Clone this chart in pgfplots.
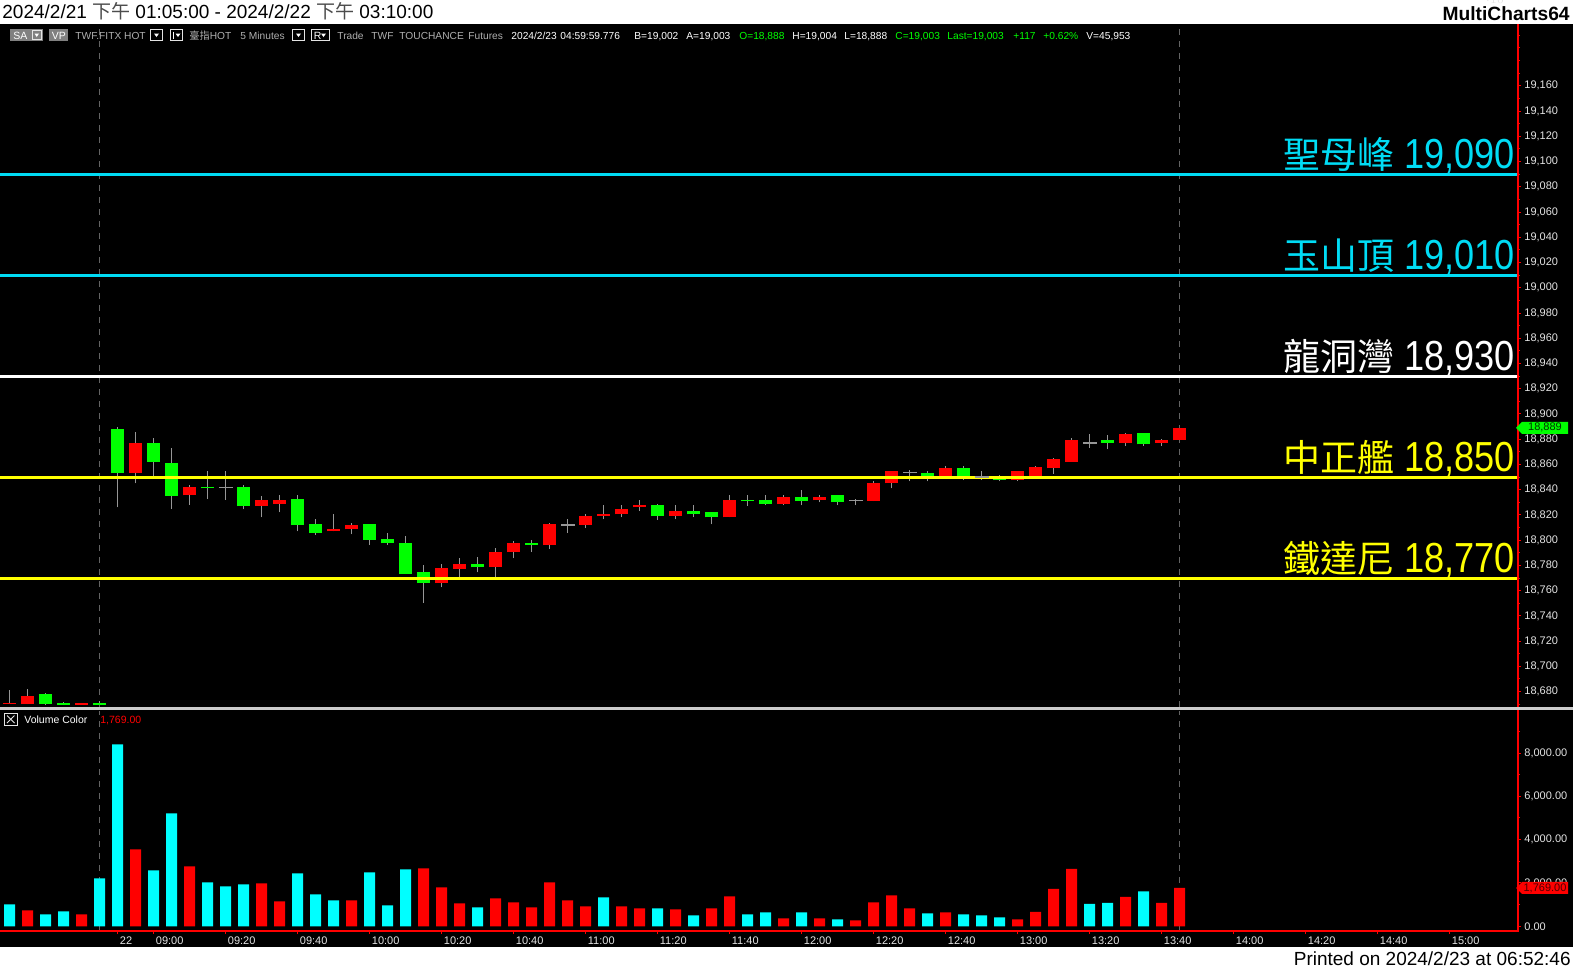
\documentclass[border=0pt]{standalone}
\usepackage{fontspec}
\setmainfont{Liberation Sans}
\newfontfamily\cjk{Noto Sans CJK TC}
\usepackage{graphicx}
\usepackage{pgfplots}
\usepackage{pgfplotstable}
\pgfplotsset{compat=1.18}

\definecolor{cup}{RGB}{255,0,0}
\definecolor{cdn}{RGB}{0,255,0}
\definecolor{wick}{RGB}{150,150,150}
\definecolor{vcyan}{RGB}{0,255,255}
\definecolor{lcyan}{RGB}{0,220,245}
\definecolor{lyel}{RGB}{255,255,0}
\definecolor{lbl}{RGB}{228,228,228}
\definecolor{stgray}{RGB}{175,175,175}
\definecolor{dashc}{RGB}{100,100,100}
\newcommand\fs[1]{\fontsize{#1}{#1}\selectfont}

% 5-minute bars, k = 0 is the 08:50 bar of 2/22
\pgfplotstableread{
k O H L C
-6 18670 18681 18670 18671
-5 18670 18682 18670 18676.5
-2 18669.6 18671 18669.6 18671
1 18853 18886 18845 18877
4 18835.5 18844 18828 18842.5
8 18827 18835 18818 18831.5
9 18828.5 18836 18822 18832
12 18807 18821 18807 18808.5
13 18808.5 18814 18804.5 18812
18 18766 18781.5 18762.5 18778
19 18777.5 18785.5 18771 18781.5
21 18778.5 18793.5 18771 18791
22 18790.5 18799 18785.5 18798
24 18796 18814 18793 18813
26 18812 18820.5 18809.5 18819.5
27 18819 18827.5 18816.5 18821
28 18820.5 18828 18818 18825
29 18826 18832 18823 18828
31 18819 18827.5 18816.5 18823.5
34 18818 18835.5 18818 18832
37 18828.5 18835.5 18827.5 18834.5
39 18831.5 18835.5 18830 18834.5
42 18831 18847 18831 18845.5
43 18845 18854.5 18841 18854.5
46 18850 18858.5 18850 18857.5
50 18847.5 18855 18847 18854.5
51 18850 18859 18850 18858
52 18857 18865.5 18852.5 18864
53 18862 18881 18862 18879.5
56 18877 18885 18874.5 18884.5
58 18877 18880.5 18874.5 18879.5
59 18879 18889 18879 18889
}\upbars

\pgfplotstableread{
k O H L C
-4 18678 18679 18669.5 18670.5
-3 18671 18672 18669.6 18669.6
-1 18671 18672.5 18669.6 18669.6
0 18888 18890 18826 18853
2 18877 18881 18851 18862
3 18861 18873 18825 18835
5 18842.5 18854.5 18832.5 18841
7 18842.5 18843.5 18824.5 18827
10 18833 18836 18807 18812
11 18812.5 18816.5 18804 18805.5
14 18813 18813 18796 18800.5
15 18801 18806 18796 18797.5
16 18798 18803.5 18773 18773.5
17 18775 18780 18750.5 18766
20 18781.5 18787 18774.5 18778.5
23 18798 18800.5 18790.5 18796.5
30 18827.5 18829 18816 18819
32 18823.5 18828 18818 18820.5
33 18822.5 18822.5 18812.5 18818
35 18832 18835.5 18827 18831
36 18831.5 18836 18827.5 18828.5
38 18834.5 18839.5 18827.5 18831
40 18835.5 18835.5 18827.5 18830
45 18853.5 18854.5 18846.5 18851
47 18857 18858.5 18847.5 18850.5
49 18851 18852 18846.5 18847.5
55 18879 18883.5 18872 18877
57 18885 18885 18874.5 18876
}\dnbars

\pgfplotstableread{
k O H L C
6 18842 18855 18832 18842
25 18812 18817 18805.5 18812
41 18831.5 18833 18827.5 18831.5
44 18853.5 18855.5 18846.5 18853.5
48 18850 18855 18847.5 18850
54 18877 18884 18873 18877
}\dojis

\pgfplotstableread{
k v
-6 1016
-4 554
-3 693
-1 2216
0 8403
2 2586
3 5217
5 2031
6 1847
7 1939
10 2447
11 1477
12 1200
14 2493
15 970
16 2632
20 877
27 1339
30 831
32 508
35 554
36 646
38 646
40 323
45 600
47 554
48 508
49 416
54 1031
55 1077
57 1615
}\volcyan

\pgfplotstableread{
k v
-5 739
-2 554
1 3555
4 2770
8 1985
9 1154
13 1200
17 2678
18 1801
19 1062
21 1293
22 1108
23 877
24 2031
25 1200
26 923
28 923
29 831
31 785
33 831
34 1385
37 369
39 369
41 277
42 1108
43 1431
44 831
46 646
50 323
51 662
52 1723
53 2646
56 1354
58 1077
59 1769
}\volred

\pgfplotsset{
  panel/.style={
    scale only axis, width=759pt,
    xmin=-6.528, xmax=77.806,
    axis line style={draw=none},
    clip=false,
    tick align=outside,
    major tick length=1.5pt, minor tick length=1pt,
    tick style={draw=red, line width=0.5pt},
    ytick pos=right,
    yticklabel style={anchor=west, inner sep=1.5pt, text=lbl, font=\fs{5.5}},
  },
  wicks/.style={draw=none, mark=none, forget plot,
    error bars/.cd, y dir=plus, y explicit, error mark=none,
    error bar style={draw=wick, line width=0.6pt}},
  body/.style={draw=none, mark=none, forget plot,
    error bars/.cd, y dir=plus, y explicit, error mark=none,
    error bar style={draw=#1, line width=6.5pt}},
}

\begin{document}
\begin{tikzpicture}
\begin{scope}[x=0.5pt,y=-0.5pt]
  \fill[white] (0,0) rectangle (1573,971);
  \fill[black] (0,24) rectangle (1573,947);
\end{scope}

% price panel
\begin{axis}[panel,
  at={(0pt,-12pt)}, anchor=north west, height=341.5pt,
  ymin=18667.8, ymax=19209,
  xtick=\empty,
  ytick={18680,18700,18720,18740,18760,18780,18800,18820,18840,18860,18880,18900,18920,18940,18960,18980,19000,19020,19040,19060,19080,19100,19120,19140,19160},
  yticklabels={{18,680},{18,700},{18,720},{18,740},{18,760},{18,780},{18,800},{18,820},{18,840},{18,860},{18,880},{18,900},{18,920},{18,940},{18,960},{18,980},{19,000},{19,020},{19,040},{19,060},{19,080},{19,100},{19,120},{19,140},{19,160}},
  minor ytick={18670,18690,18710,18730,18750,18770,18790,18810,18830,18850,18870,18890,18910,18930,18950,18970,18990,19010,19030,19050,19070,19090,19110,19130,19150,19170,19180,19190,19200},
]
  \addplot[dashc, dash pattern=on 3pt off 3pt, line width=0.5pt, forget plot] coordinates {(-1,18667.8) (-1,19209)};
  \addplot[dashc, dash pattern=on 3pt off 3pt, line width=0.5pt, forget plot] coordinates {(59,18667.8) (59,19209)};

  \addplot[wicks] table[x=k, y=L, y error plus expr=\thisrow{H}-\thisrow{L}] {\upbars};
  \addplot[wicks] table[x=k, y=L, y error plus expr=\thisrow{H}-\thisrow{L}] {\dnbars};
  \addplot[wicks] table[x=k, y=L, y error plus expr=\thisrow{H}-\thisrow{L}] {\dojis};
  \addplot[body=cup] table[x=k, y=O, y error plus expr=\thisrow{C}-\thisrow{O}] {\upbars};
  \addplot[body=cdn] table[x=k, y=C, y error plus expr=\thisrow{O}-\thisrow{C}] {\dnbars};
  \addplot[only marks, mark=-, mark size=3.5pt, mark options={draw=wick, line width=0.6pt}, forget plot] table[x=k, y=O] {\dojis};

  \addplot[lcyan, line width=1.5pt] coordinates {(-6.528,19090) (77.806,19090)};
  \addplot[lcyan, line width=1.5pt] coordinates {(-6.528,19010) (77.806,19010)};
  \addplot[white, line width=1.5pt] coordinates {(-6.528,18930) (77.806,18930)};
  \addplot[lyel, line width=1.5pt] coordinates {(-6.528,18850) (77.806,18850)};
  \addplot[lyel, line width=1.5pt] coordinates {(-6.528,18770) (77.806,18770)};

  \draw[red, line width=0.6pt] (rel axis cs:1,0) -- (rel axis cs:1,1);
  \coordinate (pm) at (axis cs:77.806,18889);
\end{axis}

% volume panel
\begin{axis}[panel,
  at={(0pt,-355.5pt)}, anchor=north west, height=110pt,
  ymin=-217, ymax=9938,
  xtick pos=bottom,
  xtick={0,2,6,10,14,18,22,26,30,34,38,42,46,50,54,58,62,66,70,74},
  xticklabels={22,09:00,09:20,09:40,10:00,10:20,10:40,11:00,11:20,11:40,12:00,12:20,12:40,13:00,13:20,13:40,14:00,14:20,14:40,15:00},
  xticklabel style={anchor=north west, inner sep=1pt, text=lbl, font=\fs{5.5}},
  ytick={0,2000,4000,6000,8000},
  yticklabels={0.00,{2,000.00},{4,000.00},{6,000.00},{8,000.00}},
  minor ytick={1000,3000,5000,7000,9000},
]
  \addplot[dashc, dash pattern=on 3pt off 3pt, line width=0.5pt, forget plot] coordinates {(-1,-217) (-1,9938)};
  \addplot[dashc, dash pattern=on 3pt off 3pt, line width=0.5pt, forget plot] coordinates {(59,-217) (59,9938)};
  \addplot[ybar, bar width=5.5pt, bar shift=0pt, fill=vcyan, draw=none] table[x=k, y=v] {\volcyan};
  \addplot[ybar, bar width=5.5pt, bar shift=0pt, fill=cup, draw=none] table[x=k, y=v] {\volred};
  \draw[red, line width=0.6pt] (rel axis cs:0,0) -- (rel axis cs:1,0) -- (rel axis cs:1,1.02);
  \coordinate (vm) at (axis cs:77.806,1769);
\end{axis}

% last-value markers on the scales
\fill[cdn] ([xshift=-1pt]pm) -- ++(3pt,3pt) -- ++(23pt,0) -- ++(0,-6pt) -- ++(-23pt,0) -- cycle;
\node[inner sep=0, text=black!80!green, font=\fs{5.5}] at ([xshift=13.5pt]pm) {18,889};
\fill[cup] ([xshift=-1pt]vm) -- ++(3pt,3pt) -- ++(23pt,0) -- ++(0,-6pt) -- ++(-23pt,0) -- cycle;
\node[inner sep=0, text=black!70!red, font=\fs{5.5}] at ([xshift=13.5pt]vm) {1,769.00};

\begin{scope}[x=0.5pt,y=-0.5pt]
  % panel separator
  \draw[white!80!black, line width=1.5pt] (0,708.5) -- (1573,708.5);

  % level labels
  \node[anchor=base east, inner sep=0, text=lcyan] at (1515,168) {{\cjk\fs{18.5}聖母峰}\hspace{5pt}\scalebox{0.86}[1]{\fs{21}19,090}};
  \node[anchor=base east, inner sep=0, text=lcyan] at (1515,269) {{\cjk\fs{18.5}玉山頂}\hspace{5pt}\scalebox{0.86}[1]{\fs{21}19,010}};
  \node[anchor=base east, inner sep=0, text=white] at (1515,370) {{\cjk\fs{18.5}龍洞灣}\hspace{5pt}\scalebox{0.86}[1]{\fs{21}18,930}};
  \node[anchor=base east, inner sep=0, text=lyel] at (1515,471) {{\cjk\fs{18.5}中正艦}\hspace{5pt}\scalebox{0.86}[1]{\fs{21}18,850}};
  \node[anchor=base east, inner sep=0, text=lyel] at (1515,572) {{\cjk\fs{18.5}鐵達尼}\hspace{5pt}\scalebox{0.86}[1]{\fs{21}18,770}};

  % header and footer
  \node[anchor=base west, inner sep=0, font=\fs{9.5}] at (2,18.5) {2024/2/21 {\cjk\color{black!70}下午} 01:05:00 - 2024/2/22 {\cjk\color{black!70}下午} 03:10:00};
  \node[anchor=base east, inner sep=0, font=\fs{9.6}\bfseries] at (1570,20.5) {MultiCharts64};
  \node[anchor=base east, inner sep=0, font=\fs{9.5}] at (1571,965) {Printed on 2024/2/23 at 06:52:46};

  % status line
  \fill[black!50] (10,29) rectangle (43,41);
  \draw[lbl, line width=0.4pt] (32,30.5) rectangle (41.5,39.5);
  \fill[white] (34.5,33.5) -- (39,33.5) -- (36.75,37) -- cycle;
  \node[anchor=base west, inner sep=0, text=white, font=\fs{5.25}] at (13,39) {SA};
  \fill[black!50] (49,29) rectangle (68,41);
  \node[anchor=base west, inner sep=0, text=white, font=\fs{5.25}] at (51.5,39) {VP};
  \draw[lbl, line width=0.4pt] (150.5,29.5) rectangle (162.5,40.5);
  \fill[white] (154,33.5) -- (159,33.5) -- (156.5,37) -- cycle;
  \draw[lbl, line width=0.4pt] (170.5,29.5) rectangle (182.5,40.5);
  \draw[white, line width=0.5pt] (173.5,31.5) -- (173.5,38.5);
  \fill[white] (175.5,33.5) -- (180.5,33.5) -- (178,37) -- cycle;
  \draw[lbl, line width=0.4pt] (292.5,29.5) rectangle (304.5,40.5);
  \fill[white] (296,33.5) -- (301,33.5) -- (298.5,37) -- cycle;
  \draw[lbl, line width=0.4pt] (311.5,29.5) rectangle (329.5,40.5);
  \node[anchor=base west, inner sep=0, text=white, font=\fs{5.25}] at (313.5,39) {R};
  \fill[white] (321,33.5) -- (326,33.5) -- (323.5,37) -- cycle;
  \begin{scope}[every node/.style={anchor=base west, inner sep=0, font=\fs{5.1}}]
    \node[text=stgray] at (75,39) {TWF.FITX HOT};
    \node[text=stgray] at (189,39) {{\cjk 臺指}HOT};
    \node[text=stgray] at (240,39) {5 Minutes};
    \node[text=stgray] at (337,39) {Trade};
    \node[text=stgray] at (371,39) {TWF};
    \node[text=stgray] at (399,39) {TOUCHANCE};
    \node[text=stgray] at (468,39) {Futures};
    \node[text=white] at (511,39) {2024/2/23};
    \node[text=white] at (560,39) {04:59:59.776};
    \node[text=white] at (634,39) {B=19,002};
    \node[text=white] at (686,39) {A=19,003};
    \node[text=cdn] at (739,39) {O=18,888};
    \node[text=white] at (792,39) {H=19,004};
    \node[text=white] at (844,39) {L=18,888};
    \node[text=cdn] at (895,39) {C=19,003};
    \node[text=cdn] at (947,39) {Last=19,003};
    \node[text=cdn] at (1013,39) {+117};
    \node[text=cdn] at (1043,39) {+0.62\%};
    \node[text=white] at (1086,39) {V=45,953};
  \end{scope}

  % volume legend
  \draw[lbl, line width=0.5pt] (4.5,713) rectangle (17,725.5);
  \draw[lbl, line width=0.5pt] (7,715.5) -- (14.5,723) (14.5,715.5) -- (7,723);
  \node[anchor=base west, inner sep=0, text=white, font=\fs{5.25}] at (24,723) {Volume Color};
  \node[anchor=base west, inner sep=0, text=cup, font=\fs{5.25}] at (100,723) {1,769.00};

  \pgfresetboundingbox
  \path[use as bounding box] (0,0) rectangle (1573,971);
\end{scope}
\end{tikzpicture}
\end{document}
